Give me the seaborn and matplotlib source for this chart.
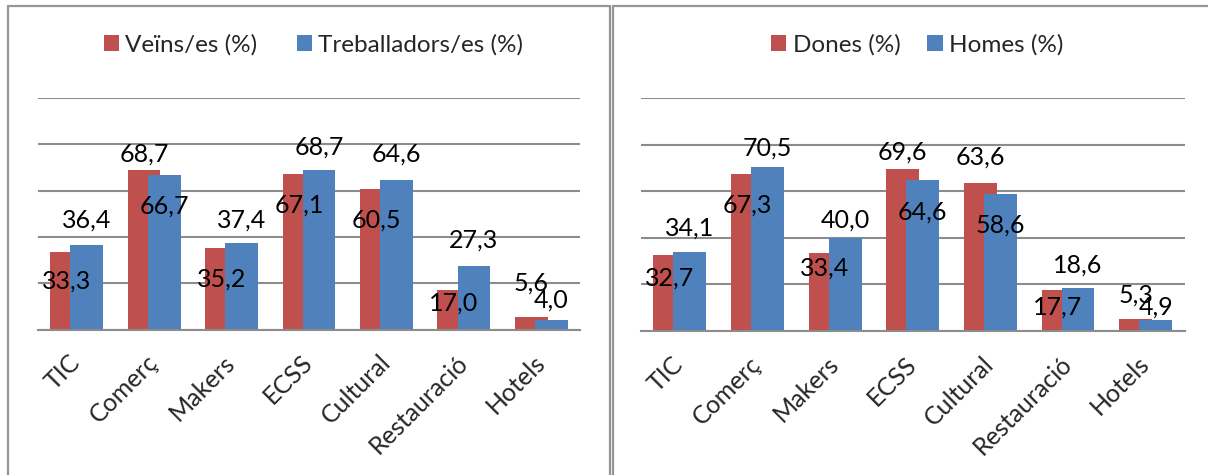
import matplotlib
matplotlib.use("Agg")
import matplotlib.pyplot as plt
from matplotlib.lines import Line2D
import seaborn as sns
import pandas as pd

# ---- data ----
categories = ["TIC", "Comerç", "Makers", "ECSS", "Cultural", "Restauració", "Hotels"]
left_series = ["Veïns/es (%)", "Treballadors/es (%)"]
right_series = ["Dones (%)", "Homes (%)"]
veins = [33.3, 68.7, 35.2, 67.1, 60.5, 17.0, 5.6]
treballadors = [36.4, 66.7, 37.4, 68.7, 64.6, 27.3, 4.0]
dones = [32.7, 67.3, 33.4, 69.6, 63.6, 17.7, 5.3]
homes = [34.1, 70.5, 40.0, 64.6, 58.6, 18.6, 4.9]

# ---- label placement (offset from bar top, in value units) ----
veins_lab = [-12.4, 7.0, -13.5, -13.2, -13.1, -5.8, 14.3]
treb_lab = [11.0, -13.2, 10.0, 9.9, 11.1, 11.4, 8.6]
dones_lab = [-10.1, -13.2, -6.5, 7.4, 11.2, -7.3, 10.2]
homes_lab = [10.0, 7.9, 7.6, -13.4, -13.1, 9.7, 5.5]

RED = "#C0504D"
BLUE = "#4F81BD"
GRID = "#8c8c8c"
BORDER = "#959595"
FS_LAB = 18
FS_TICK = 18
FS_LEG = 17.5

sns.set_style("white")
plt.rcParams["font.family"] = ["Lato", "DejaVu Sans"]

W, H = 1208, 475
fig = plt.figure(figsize=(W / 100, H / 100), dpi=100)


def fx(px):
    return px / W


def fy(py):
    return 1 - py / H


ax1 = fig.add_axes([fx(38), fy(329.5), fx(580) - fx(38), fy(98) - fy(329.5)])
ax2 = fig.add_axes([fx(641), fy(331), fx(1184.5) - fx(641), fy(98) - fy(331)])


def fmt(v):
    return f"{v:.1f}".replace(".", ",")


def panel(ax, series, v1, v2, off1, off2, leg_center, colspace):
    df = pd.DataFrame({
        "cat": categories * 2,
        "serie": [series[0]] * len(categories) + [series[1]] * len(categories),
        "val": v1 + v2,
    })
    sns.barplot(data=df, x="cat", y="val", hue="serie", order=categories,
                hue_order=series, palette=[RED, BLUE], width=0.517, gap=-0.634,
                dodge=True, saturation=1, errorbar=None, ax=ax,
                edgecolor="none", linewidth=0)
    ax.set_ylim(0, 100)
    ax.set_xlim(-0.5, len(categories) - 0.5)
    ax.set_yticks([0, 20, 40, 60, 80, 100])
    ax.set_yticklabels([])
    ax.yaxis.grid(True, color=GRID, lw=1.5)
    ax.xaxis.grid(False)
    ax.set_axisbelow(True)
    for s in ["top", "left", "right"]:
        ax.spines[s].set_visible(False)
    ax.spines["bottom"].set_color(GRID)
    ax.spines["bottom"].set_linewidth(1.5)
    ax.set_xlabel("")
    ax.set_ylabel("")
    ax.tick_params(axis="both", length=0)
    ax.tick_params(axis="x", pad=21)
    ax.set_xticks(range(len(categories)))
    ax.set_xticklabels(categories, rotation=45, ha="right", va="center",
                       rotation_mode="anchor", fontsize=FS_TICK)
    for cont, vals, offs in zip(ax.containers, [v1, v2], [off1, off2]):
        for bar, v, o in zip(cont, vals, offs):
            x = bar.get_x() + bar.get_width() / 2
            ax.text(x, v + o, fmt(v), ha="center", va="center", fontsize=FS_LAB,
                    color="black")
    h, l = ax.get_legend_handles_labels()
    ax.legend(h, l, loc="center", bbox_to_anchor=(fx(leg_center), fy(45)),
              bbox_transform=fig.transFigure, ncol=2, frameon=False,
              handlelength=0.65, handleheight=0.65, handletextpad=0.25,
              columnspacing=colspace, fontsize=FS_LEG)


panel(ax1, left_series, veins, treballadors, veins_lab, treb_lab, 313.5, 1.6)
panel(ax2, right_series, dones, homes, dones_lab, homes_lab, 917, 1.1)

# panel borders
lw = 1.6
fig.add_artist(Line2D([fx(8), fx(8)], [fy(6), fy(480)], transform=fig.transFigure, color=BORDER, lw=lw))
fig.add_artist(Line2D([fx(8), fx(610)], [fy(6), fy(6)], transform=fig.transFigure, color=BORDER, lw=lw))
fig.add_artist(Line2D([fx(610), fx(610)], [fy(6), fy(480)], transform=fig.transFigure, color=BORDER, lw=lw))
fig.add_artist(Line2D([fx(612.5), fx(612.5)], [fy(6), fy(480)], transform=fig.transFigure, color=BORDER, lw=lw))
fig.add_artist(Line2D([fx(612.5), fx(1210)], [fy(6), fy(6)], transform=fig.transFigure, color=BORDER, lw=lw))

fig.savefig("out.png", dpi=100)
